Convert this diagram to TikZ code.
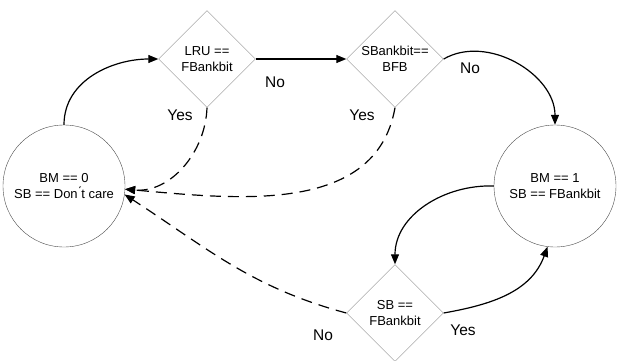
\documentclass[tikz,border=0pt]{standalone}
\usepackage{fontspec}
\setmainfont{Liberation Sans}
\usetikzlibrary{shapes.geometric,arrows.meta}

\begin{document}
\begin{tikzpicture}[x=1pt,y=-1pt,
  state/.style={circle,draw=black!70,minimum size=122pt,inner sep=0pt,align=center,font=\fontsize{13}{15.5}\selectfont},
  test/.style={diamond,draw=black!45,aspect=1,minimum size=97pt,inner sep=0pt,align=center,font=\fontsize{13}{15.5}\selectfont},
  lab/.style={font=\fontsize{15.5}{18}\selectfont},
  link/.style={line width=1.2pt},
  >={Triangle[length=10pt,width=8pt]},
  back/.style={link,dash pattern=on 11pt off 7pt}]
\useasboundingbox (0,0) rectangle (619,361);
\node[state] (a) at (64,186) {BM == 0\\SB == Don\'{}t care};
\node[state] (b) at (555,186) {BM == 1\\SB == FBankbit};
\node[test] (c) at (207,59) {LRU ==\\FBankbit};
\node[test] (d) at (395,59) {SBankbit==\\BFB};
\node[test] (e) at (395,313) {SB ==\\FBankbit};
\draw[link,->] (a.north) to[out=90,in=180] (c.west);
\draw[link,->] (c.east) -- (d.west);
\draw[link,->] (d.east) to[out=30,in=90] (b.north);
\draw[link,->] (b.west) to[out=178,in=90] (e.north);
\draw[link,->] (e.east) to[out=10,in=-110] (b.-97);
\draw[back,->] (c.south) to[out=-92,in=-5] (a.-3);
\draw[back,->] (d.south) to[out=-100,in=-5] (a.-3);
\draw[back,->] (e.west) to[out=165,in=-33] (a.-8);
\node[lab] (n1) at (275,82) {No};
\node[lab] (y1) at (180,115) {Yes};
\node[lab] (n2) at (470,68) {No};
\node[lab] (y2) at (362,115) {Yes};
\node[lab] (n3) at (323,335) {No};
\node[lab] (y3) at (463,330) {Yes};
\end{tikzpicture}
\end{document}
